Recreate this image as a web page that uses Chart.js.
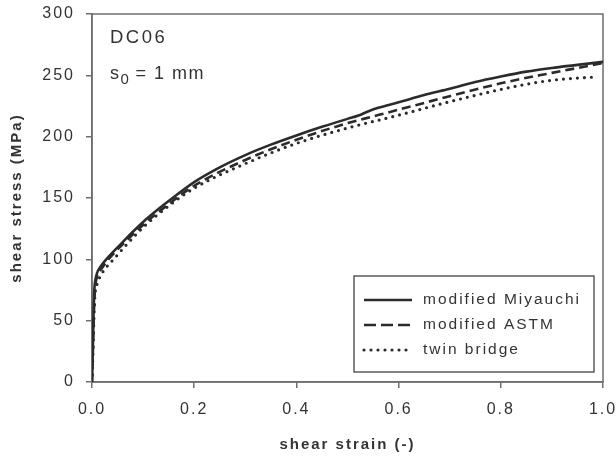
<!DOCTYPE html>
<html>
<head>
<meta charset="utf-8">
<script src="https://cdn.jsdelivr.net/npm/chart.js@4"></script>
<style>
  html, body { margin: 0; padding: 0; background: #fff; }
  #wrap { width: 616px; height: 458px; }
</style>
</head>
<body>
<div id="wrap"><canvas id="shearChart" width="616" height="458"></canvas></div>
<script>
// --- DATA ---
const miyauchiStrain = [0, 0.001, 0.002, 0.003, 0.004, 0.005, 0.007, 0.01, 0.015, 0.02, 0.03, 0.04, 0.06, 0.08, 0.1, 0.13, 0.15, 0.2, 0.25, 0.3, 0.35, 0.4, 0.45, 0.5, 0.52, 0.54, 0.56, 0.6, 0.65, 0.7, 0.75, 0.8, 0.85, 0.9, 0.95, 1.0];
const miyauchiStress = [0, 15, 35, 55, 70, 78, 84, 89, 93, 96, 101, 105.5, 114, 122.5, 130.5, 141, 147.5, 163, 175, 185, 193.5, 201, 208, 214.5, 217, 220.5, 223.5, 228, 234, 239, 244.5, 249, 253, 256, 258.5, 261];

const astmStrain = [0, 0.002, 0.004, 0.006, 0.01, 0.02, 0.03, 0.05, 0.1, 0.15, 0.2, 0.3, 0.4, 0.5, 0.55, 0.6, 0.7, 0.8, 0.9, 0.95, 1.0];
const astmStress = [0, 30, 60, 76, 86, 93, 99, 108, 128, 145, 160, 181, 197.5, 211, 216.5, 222, 233, 243.5, 252, 256, 260];

const twinStrain = [0, 0.002, 0.004, 0.006, 0.01, 0.016, 0.025, 0.04, 0.07, 0.1, 0.15, 0.2, 0.3, 0.4, 0.5, 0.6, 0.7, 0.8, 0.86, 0.9, 0.94, 0.98];
const twinStress = [0, 25, 55, 72, 80, 86, 92, 99, 113, 126, 143.5, 158, 178, 194.5, 207, 217.5, 228.5, 238.5, 243.5, 246, 247.5, 248.5];

const seriesNames = ['modified Miyauchi', 'modified ASTM', 'twin bridge'];
const xTicks = [0, 0.2, 0.4, 0.6, 0.8, 1.0];
const yTicks = [0, 50, 100, 150, 200, 250, 300];

// --- STYLE ---
const FONT = '"Liberation Sans", Arial, Helvetica, sans-serif';
const lineColor = '#2b2b2b';
const axisColor = '#6e6e6e';
const textColor = '#333333';
const dashes = [[], [9, 5], [0, 7]];
const widths = [2.6, 2.6, 3.2];

const toPoints = (xs, ys) => xs.map((x, i) => ({ x: x, y: ys[i] }));

// canvas letter spacing, the reference text is set wide
const spacingPlugin = {
    id: 'spacing',
    beforeLayout(chart) { chart.ctx.letterSpacing = '2px'; },
    beforeDraw(chart) { chart.ctx.letterSpacing = '2px'; }
};

// box round the plot area
const framePlugin = {
    id: 'frame',
    beforeDatasetsDraw(chart) {
        const { ctx, chartArea: a } = chart;
        ctx.save();
        ctx.strokeStyle = axisColor;
        ctx.lineWidth = 1.5;
        ctx.strokeRect(a.left, a.top, a.right - a.left, a.bottom - a.top);
        ctx.restore();
    }
};

// DC06 / s0 note and the legend box
const notesPlugin = {
    id: 'notes',
    afterDraw(chart) {
        const { ctx, chartArea: a } = chart;
        ctx.save();
        ctx.fillStyle = textColor;
        ctx.textBaseline = 'alphabetic';
        ctx.textAlign = 'left';

        const nx = a.left + 18;
        ctx.letterSpacing = '2.5px';
        ctx.font = '18.5px ' + FONT;
        ctx.fillText('DC06', nx, a.top + 29);

        ctx.letterSpacing = '1.5px';
        ctx.font = '18px ' + FONT;
        ctx.fillText('s', nx, a.top + 65);
        ctx.font = '15px ' + FONT;
        ctx.fillText('0', nx + 10.5, a.top + 69.5);
        ctx.font = '18px ' + FONT;
        ctx.fillText(' = 1 mm', nx + 19, a.top + 65);

        // legend
        const bx = a.right - 249, by = a.bottom - 106, bw = 240, bh = 96;
        ctx.fillStyle = '#fff';
        ctx.fillRect(bx, by, bw, bh);
        ctx.strokeStyle = '#333';
        ctx.lineWidth = 1.2;
        ctx.strokeRect(bx, by, bw, bh);

        ctx.letterSpacing = '2px';
        ctx.font = '15.5px ' + FONT;
        ctx.textBaseline = 'middle';
        seriesNames.forEach((name, i) => {
            const ry = by + 24 + i * 25;
            ctx.beginPath();
            ctx.strokeStyle = lineColor;
            ctx.lineWidth = widths[i];
            ctx.setLineDash(i === 1 ? [12, 5] : dashes[i]);
            ctx.lineCap = i === 2 ? 'round' : 'butt';
            ctx.moveTo(bx + 10, ry);
            ctx.lineTo(bx + 58, ry);
            ctx.stroke();
            ctx.setLineDash([]);
            ctx.fillStyle = textColor;
            ctx.fillText(name, bx + 69, ry);
        });
        ctx.restore();
    }
};

const datasets = [
    toPoints(miyauchiStrain, miyauchiStress),
    toPoints(astmStrain, astmStress),
    toPoints(twinStrain, twinStress)
].map((pts, i) => ({
    label: seriesNames[i],
    data: pts,
    borderColor: lineColor,
    borderWidth: widths[i],
    borderDash: dashes[i],
    borderCapStyle: i === 2 ? 'round' : 'butt',
    pointRadius: 0,
    fill: false,
    cubicInterpolationMode: 'monotone'
}));

// keep the plot box exactly where the reference has it
const fixX = s => { s.height = 76; s.paddingLeft = 0; s.paddingRight = 0; };
const fixY = s => { s.width = 92; s.paddingTop = 0; s.paddingBottom = 0; };

const ctx = document.getElementById('shearChart').getContext('2d');
const shearChart = new Chart(ctx, {
    type: 'line',
    data: { datasets: datasets },
    options: {
        responsive: false,
        animation: false,
        layout: { padding: { top: 14, right: 13, bottom: 0, left: 0 } },
        plugins: { legend: { display: false }, tooltip: { enabled: false } },
        scales: {
            x: {
                type: 'linear',
                min: 0,
                max: 1,
                afterBuildTicks: s => { s.ticks = xTicks.map(v => ({ value: v })); },
                ticks: {
                    callback: v => v.toFixed(1),
                    color: textColor,
                    font: { family: FONT, size: 16 },
                    padding: 12,
                    maxRotation: 0
                },
                grid: { drawOnChartArea: false, tickLength: 6, color: axisColor, lineWidth: 1.5 },
                border: { color: axisColor, width: 1.5 },
                title: {
                    display: true,
                    text: 'shear strain (-)',
                    color: textColor,
                    font: { family: FONT, size: 15, weight: 'bold' },
                    padding: { top: 0, bottom: 4 }
                },
                afterFit: fixX
            },
            y: {
                type: 'linear',
                min: 0,
                max: 300,
                afterBuildTicks: s => { s.ticks = yTicks.map(v => ({ value: v })); },
                ticks: {
                    color: textColor,
                    font: { family: FONT, size: 16 },
                    padding: 11
                },
                grid: { drawOnChartArea: false, tickLength: 6, color: axisColor, lineWidth: 1.5 },
                border: { color: axisColor, width: 1.5 },
                title: {
                    display: true,
                    text: 'shear stress (MPa)',
                    color: textColor,
                    font: { family: FONT, size: 15, weight: 'bold' },
                    padding: { top: 8, bottom: 0 }
                },
                afterFit: fixY
            }
        }
    },
    plugins: [spacingPlugin, framePlugin, notesPlugin]
});
</script>
</body>
</html>
